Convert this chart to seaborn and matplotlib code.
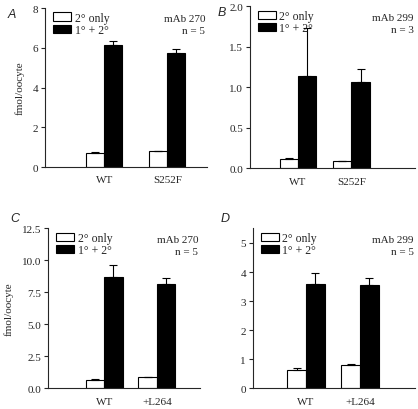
import numpy as np
import pandas as pd
import matplotlib
matplotlib.use("Agg")
import matplotlib.pyplot as plt
import seaborn as sns
from matplotlib.patches import Patch

# ==============================
# DATA
# ==============================

CONDITIONS = ["2° only", "1° + 2°"]

cats_top = ["WT", "S252F"]
cats_bottom = ["WT", "+L264"]

# panel A  mAb 270, n = 5
a_sec = [0.71, 0.81]
a_sec_err = [0.03, 0.02]
a_pri = [6.12, 5.75]
a_pri_err = [0.21, 0.2]

# panel B  mAb 299, n = 3
b_sec = [0.115, 0.085]
b_sec_err = [0.012, 0.004]
b_pri = [1.14, 1.07]
b_pri_err = [0.59, 0.16]

# panel C  mAb 270, n = 5
c_sec = [0.65, 0.86]
c_sec_err = [0.05, 0.03]
c_pri = [8.67, 8.15]
c_pri_err = [1.0, 0.45]

# panel D  mAb 299, n = 5
d_sec = [0.62, 0.8]
d_sec_err = [0.07, 0.04]
d_pri = [3.6, 3.56]
d_pri_err = [0.38, 0.23]

# ==============================
# STYLE
# ==============================

sns.set_theme(style="ticks")
plt.rcParams["font.family"] = ["Liberation Serif", "DejaVu Serif"]
plt.rcParams["font.size"] = 8
plt.rcParams["axes.linewidth"] = 0.8
plt.rcParams["xtick.labelsize"] = 8
plt.rcParams["ytick.labelsize"] = 8

fig = plt.figure(figsize=(4.18, 4.10), dpi=100)

panels = [
    # letter, cats, sec, sec_err, pri, pri_err, ylim, yticks, fmt, mab, n, rect, xlim, width, ylabel
    ("A", cats_top, a_sec, a_sec_err, a_pri, a_pri_err, (0, 8), [0, 2, 4, 6, 8], "{:.0f}",
     "mAb 270", "n = 5", [0.108, 0.590, 0.387, 0.388], (-0.94, 1.63), 0.57, True),
    ("B", cats_top, b_sec, b_sec_err, b_pri, b_pri_err, (0, 2.0), [0, 0.5, 1.0, 1.5, 2.0], "{:.1f}",
     "mAb 299", "n = 3", [0.598, 0.587, 0.395, 0.395], (-0.90, 2.19), 0.68, False),
    ("C", cats_bottom, c_sec, c_sec_err, c_pri, c_pri_err, (0, 12.5), [0, 2.5, 5.0, 7.5, 10.0, 12.5], "{:.1f}",
     "mAb 270", "n = 5", [0.115, 0.0505, 0.363, 0.390], (-1.06, 1.81), 0.70, True),
    ("D", cats_bottom, d_sec, d_sec_err, d_pri, d_pri_err, (0, 5.5), [0, 1, 2, 3, 4, 5], "{:.0f}",
     "mAb 299", "n = 5", [0.605, 0.0505, 0.388, 0.390], (-0.98, 2.02), 0.69, False),
]

for (letter, cats, sec, sec_err, pri, pri_err, ylim, yticks, fmt,
     mab, n_txt, rect, xlim, width, show_ylabel) in panels:
    ax = fig.add_axes(rect)

    df = pd.DataFrame({
        "construct": cats * 2,
        "condition": [CONDITIONS[0]] * len(cats) + [CONDITIONS[1]] * len(cats),
        "value": sec + pri,
    })

    sns.barplot(
        data=df, x="construct", y="value", hue="condition",
        order=cats, hue_order=CONDITIONS,
        palette=["white", "black"], edgecolor="black", linewidth=0.8,
        width=width, errorbar=None, legend=False, ax=ax,
    )

    # upper error bars only, placed on the bars seaborn drew
    for cont, errs in zip(ax.containers, [sec_err, pri_err]):
        for bar, e in zip(cont.patches, errs):
            xc = bar.get_x() + bar.get_width() / 2
            top = bar.get_height()
            ax.errorbar(xc, top, yerr=[[0], [e]], fmt="none", ecolor="black",
                        elinewidth=0.8, capsize=3, capthick=0.8)

    ax.set_xlim(*xlim)
    ax.set_ylim(*ylim)
    ax.set_yticks(yticks)
    ax.set_yticklabels([fmt.format(t) for t in yticks])
    ax.tick_params(axis="x", length=0, pad=6)
    ax.tick_params(axis="y", length=3, width=0.8, pad=2)
    sns.despine(ax=ax)
    ax.set_xlabel("")
    if show_ylabel:
        ax.set_ylabel("fmol/oocyte", fontsize=8, labelpad=6)
    else:
        ax.set_ylabel("")

    handles = [Patch(facecolor="white", edgecolor="black", linewidth=0.8),
               Patch(facecolor="black", edgecolor="black", linewidth=0.8)]
    ax.legend(handles, CONDITIONS, loc="upper left", bbox_to_anchor=(0.0, 1.03),
              frameon=False, handlelength=1.5, handleheight=0.7,
              handletextpad=0.3, labelspacing=0.05, borderaxespad=0.3,
              fontsize=8.5)

    ax.text(0.99, 0.96, mab + "\n" + n_txt, transform=ax.transAxes,
            ha="right", va="top", fontsize=8, linespacing=1.4)

    # panel letter
    fx = rect[0] - (0.09 if letter in "AC" else 0.077)
    fy = rect[1] + rect[3] + (0.0 if letter in "AB" else 0.04)
    fig.text(fx, fy, letter, ha="left", va="top", fontsize=9, style="italic",
             family=["Liberation Sans", "DejaVu Sans"])

fig.savefig("out.png", dpi=100)
